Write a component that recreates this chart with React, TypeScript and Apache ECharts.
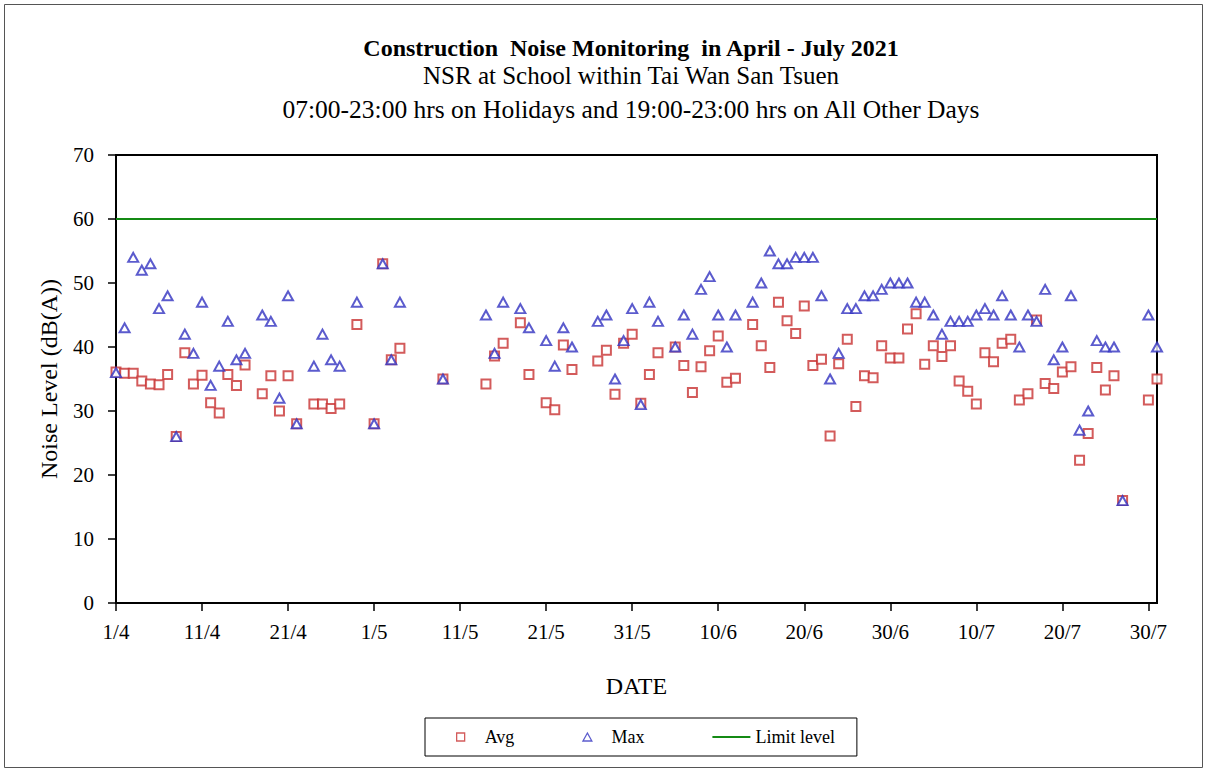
import React, { useEffect, useRef } from "react";
import * as echarts from "echarts";

const titleLines = [
  "Construction  Noise Monitoring  in April - July 2021",
  "NSR at School within Tai Wan San Tsuen",
  "07:00-23:00 hrs on Holidays and 19:00-23:00 hrs on All Other Days",
];

const dates = [
  "1/4", "2/4", "3/4", "4/4", "5/4", "6/4", "7/4", "8/4", "9/4", "10/4",
  "11/4", "12/4", "13/4", "14/4", "15/4", "16/4",
  "18/4", "19/4", "20/4", "21/4", "22/4",
  "24/4", "25/4", "26/4", "27/4",
  "29/4",
  "1/5", "2/5", "3/5", "4/5",
  "9/5",
  "14/5", "15/5", "16/5",
  "18/5", "19/5",
  "21/5", "22/5", "23/5", "24/5",
  "27/5", "28/5", "29/5", "30/5", "31/5",
  "1/6", "2/6", "3/6",
  "5/6", "6/6", "7/6", "8/6", "9/6", "10/6", "11/6", "12/6",
  "14/6", "15/6", "16/6", "17/6", "18/6", "19/6", "20/6", "21/6", "22/6", "23/6", "24/6", "25/6", "26/6", "27/6", "28/6", "29/6", "30/6",
  "1/7", "2/7", "3/7", "4/7", "5/7", "6/7", "7/7", "8/7", "9/7", "10/7", "11/7", "12/7", "13/7", "14/7", "15/7", "16/7", "17/7", "18/7", "19/7", "20/7", "21/7", "22/7", "23/7", "24/7", "25/7", "26/7", "27/7",
  "30/7", "31/7",
];

const avgValues = [
  36.1, 35.9, 35.9, 34.7, 34.2, 34.1, 35.7, 26.0, 39.1, 34.2,
  35.6, 31.3, 29.7, 35.7, 34.0, 37.2,
  32.7, 35.5, 30.0, 35.5, 28.0,
  31.1, 31.1, 30.4, 31.1,
  43.5,
  28.0, 53.0, 38.0, 39.8,
  35.0,
  34.2, 38.6, 40.6,
  43.8, 35.7,
  31.3, 30.2, 40.3, 36.5,
  37.8, 39.5, 32.6, 40.6, 42.0,
  31.2, 35.7, 39.1,
  40.0, 37.1, 32.9, 36.9, 39.4, 41.7, 34.5, 35.1,
  43.5, 40.2, 36.8, 47.0, 44.1, 42.1, 46.4, 37.1, 38.1, 26.1, 37.4, 41.2, 30.7, 35.5, 35.2, 40.2, 38.3,
  38.3, 42.8, 45.2, 37.3, 40.2, 38.5, 40.2, 34.7, 33.1, 31.1, 39.1, 37.7, 40.6, 41.2, 31.7, 32.7, 44.2, 34.3, 33.5, 36.1, 36.9, 22.3, 26.5, 36.8, 33.3, 35.5, 16.0,
  31.7, 35.0,
];

const maxValues = [
  36, 43, 54, 52, 53, 46, 48, 26, 42, 39,
  47, 34, 37, 44, 38, 39,
  45, 44, 32, 48, 28,
  37, 42, 38, 37,
  47,
  28, 53, 38, 47,
  35,
  45, 39, 47,
  46, 43,
  41, 37, 43, 40,
  44, 45, 35, 41, 46,
  31, 47, 44,
  40, 45, 42, 49, 51, 45, 40, 45,
  47, 50, 55, 53, 53, 54, 54, 54, 48, 35, 39, 46, 46, 48, 48, 49, 50,
  50, 50, 47, 47, 45, 42, 44, 44, 44, 45, 46, 45, 48, 45, 40, 45, 44, 49, 38, 40, 48, 27, 30, 41, 40, 40, 16,
  45, 40,
];

const limitLevel = 60;
const axisStart = "1/4";
const axisEnd = "31/7";
const yTicks = [0, 10, 20, 30, 40, 50, 60, 70];

const YEAR = 2021;
const dayOf = (s: string) => {
  const [d, m] = s.split("/").map(Number);
  const [d0, m0] = axisStart.split("/").map(Number);
  return Math.round((Date.UTC(YEAR, m - 1, d) - Date.UTC(YEAR, m0 - 1, d0)) / 86400000);
};
const labelOf = (v: number) => {
  const [d0, m0] = axisStart.split("/").map(Number);
  const dt = new Date(Date.UTC(YEAR, m0 - 1, d0 + v));
  return `${dt.getUTCDate()}/${dt.getUTCMonth() + 1}`;
};

const FONT = "'Liberation Serif', 'Times New Roman', serif";
const RED = "#C83232";
const BLUE = "#3232C0";
const GREEN = "#148A14";

export default function App() {
  const ref = useRef<HTMLDivElement>(null);
  useEffect(() => {
    if (!ref.current) return;
    const chart = echarts.init(ref.current, null, { renderer: "svg" });
    const xMax = dayOf(axisEnd);
    chart.setOption({
      animation: false,
      backgroundColor: "#fff",
      textStyle: { fontFamily: FONT, color: "#000" },
      title: [
        { text: titleLines[0], left: 626, top: 31, textAlign: "center", textStyle: { fontFamily: FONT, fontSize: 24, fontWeight: "bold", color: "#000" } },
        { text: titleLines[1], left: 626, top: 58, textAlign: "center", textStyle: { fontFamily: FONT, fontSize: 25, fontWeight: "normal", color: "#000" } },
        { text: titleLines[2], left: 626, top: 91, textAlign: "center", textStyle: { fontFamily: FONT, fontSize: 25.5, fontWeight: "normal", color: "#000" } },
      ],
      graphic: [
        { type: "rect", shape: { x: 4.5, y: 4.5, width: 1198, height: 763 }, style: { fill: "none", stroke: "#555", lineWidth: 1 }, silent: true },
      ],
      grid: { left: 116, top: 155, right: 50, bottom: 169, show: true, borderColor: "#000", borderWidth: 2, backgroundColor: "transparent" },
      legend: {
        left: 425,
        top: 718,
        padding: [10, 22, 10, 31],
        itemGap: 68,
        itemWidth: 38,
        itemHeight: 8,
        symbolKeepAspect: true,
        borderColor: "#000",
        borderWidth: 1,
        textStyle: { fontFamily: FONT, fontSize: 18, color: "#000" },
        data: [
          { name: "Avg", icon: "path://M0,0H10V10H0Z", itemStyle: { color: "#fff", borderColor: RED, borderWidth: 1.3 } },
          { name: "Max", icon: "path://M5,0L10,9H0Z", itemStyle: { color: "#fff", borderColor: BLUE, borderWidth: 1.3 } },
          { name: "Limit level", icon: "path://M0,0H38V2H0Z", itemStyle: { color: GREEN, borderWidth: 0 } },
        ],
      },
      xAxis: {
        type: "value",
        min: 0,
        max: xMax,
        interval: 10,
        name: "DATE",
        nameLocation: "middle",
        nameGap: 71,
        nameTextStyle: { fontFamily: FONT, fontSize: 24, color: "#000" },
        splitLine: { show: false },
        axisLine: { lineStyle: { color: "#000", width: 2 } },
        axisTick: { show: true, inside: false, length: 8, lineStyle: { color: "#000", width: 1.5 } },
        axisLabel: { formatter: (v: number) => labelOf(v), showMaxLabel: false, fontFamily: FONT, fontSize: 21, color: "#000", margin: 18 },
      },
      yAxis: {
        type: "value",
        min: yTicks[0],
        max: yTicks[yTicks.length - 1],
        interval: 10,
        name: "Noise Level (dB(A))",
        nameLocation: "middle",
        nameGap: 55,
        nameTextStyle: { fontFamily: FONT, fontSize: 24, color: "#000" },
        splitLine: { show: false },
        axisLine: { lineStyle: { color: "#000", width: 2 } },
        axisTick: { show: true, inside: false, length: 8, lineStyle: { color: "#000", width: 1.5 } },
        axisLabel: { fontFamily: FONT, fontSize: 21, color: "#000", margin: 22 },
      },
      series: [
        {
          name: "Avg",
          type: "scatter",
          symbol: "emptyRect",
          symbolSize: 9,
          itemStyle: { color: RED, borderColor: RED, borderWidth: 1.4 },
          data: dates.map((d, i) => [dayOf(d), avgValues[i]]),
          z: 3,
        },
        {
          name: "Max",
          type: "scatter",
          symbol: "emptyTriangle",
          symbolSize: [10, 9],
          itemStyle: { color: BLUE, borderColor: BLUE, borderWidth: 1.4 },
          data: dates.map((d, i) => [dayOf(d), maxValues[i]]),
          z: 4,
        },
        {
          name: "Limit level",
          type: "line",
          symbol: "none",
          lineStyle: { color: GREEN, width: 2 },
          itemStyle: { color: GREEN },
          data: [[0, limitLevel], [xMax, limitLevel]],
          z: 2,
        },
      ],
    });
    return () => chart.dispose();
  }, []);
  return <div ref={ref} style={{ position: "fixed", left: 0, top: 0, width: 1207, height: 772 }} />;
}
